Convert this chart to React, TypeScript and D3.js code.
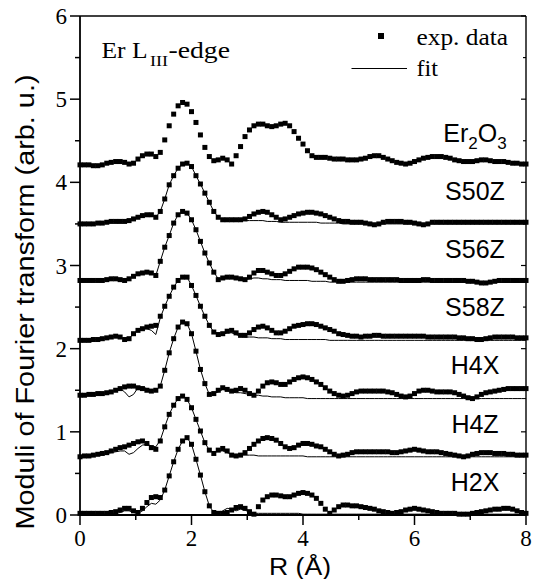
import React from "react";
import * as d3 from "d3";

// Sampling step of the radial grid (Å)
const R_STEP = 0.08;

const seriesNames = ["Er2O3", "S50Z", "S56Z", "S58Z", "H4X", "H4Z", "H2X"];
const offsets = [4.2, 3.5, 2.8, 2.1, 1.4, 0.7, 0];
const xTicks = [0, 2, 4, 6, 8];
const xMinorTicks = [1, 3, 5, 7];
const yTicks = [0, 1, 2, 3, 4, 5, 6];
const yMinorTicks = [0.5, 1.5, 2.5, 3.5, 4.5, 5.5];

// Experimental |FT| (relative to each curve's offset), R = 0 .. 8 step 0.08
const er2o3Exp = [
  0.01, 0.01, 0.01, 0.0, 0.0, 0.01, 0.03, 0.04, 0.05, 0.05,
  0.04, 0.02, 0.03, 0.08, 0.12, 0.14, 0.14, 0.11, 0.16, 0.31,
  0.48, 0.62, 0.72, 0.76, 0.74, 0.65, 0.52, 0.37, 0.22, 0.11,
  0.06, 0.07, 0.09, 0.07, 0.02, 0.12, 0.23, 0.35, 0.43, 0.48,
  0.5, 0.5, 0.48, 0.47, 0.48, 0.5, 0.51, 0.48, 0.41, 0.33,
  0.26, 0.18, 0.12, 0.1, 0.1, 0.1, 0.09, 0.08, 0.08, 0.08,
  0.07, 0.07, 0.07, 0.08, 0.09, 0.11, 0.12, 0.12, 0.1, 0.08,
  0.06, 0.04, 0.03, 0.02, 0.03, 0.05, 0.07, 0.09, 0.1, 0.11,
  0.11, 0.11, 0.1, 0.09, 0.07, 0.06, 0.05, 0.05, 0.05, 0.06,
  0.07, 0.07, 0.06, 0.05, 0.05, 0.05, 0.04, 0.03, 0.03, 0.02,
  0.02,
];
const s50zExp = [
  0.0, 0.0, 0.0, 0.0, 0.01, 0.01, 0.02, 0.03, 0.03, 0.03,
  0.03, 0.04, 0.06, 0.08, 0.1, 0.11, 0.11, 0.08, 0.15, 0.3,
  0.47, 0.58, 0.67, 0.72, 0.73, 0.69, 0.58, 0.48, 0.37, 0.26,
  0.15, 0.08, 0.05, 0.05, 0.05, 0.05, 0.05, 0.06, 0.09, 0.12,
  0.14, 0.15, 0.14, 0.11, 0.08, 0.05, 0.06, 0.08, 0.1, 0.12,
  0.13, 0.14, 0.14, 0.13, 0.12, 0.1, 0.08, 0.06, 0.04, 0.03,
  0.03, 0.02, 0.02, 0.02, 0.01, 0.0, -0.01, 0.0, 0.02, 0.03,
  0.03, 0.03, 0.03, 0.02, 0.02, 0.01, 0.0, -0.01, 0.0, 0.02,
  0.02, 0.02, 0.02, 0.02, 0.02, 0.02, 0.02, 0.02, 0.02, 0.02,
  0.02, 0.02, 0.02, 0.02, 0.02, 0.02, 0.02, 0.02, 0.02, 0.02,
  0.02,
];
const s56zExp = [
  0.02, 0.02, 0.02, 0.02, 0.02, 0.02, 0.03, 0.04, 0.04, 0.03,
  0.02, 0.04, 0.07, 0.1, 0.11, 0.12, 0.11, 0.08, 0.25, 0.42,
  0.56, 0.71, 0.81, 0.85, 0.83, 0.75, 0.63, 0.49, 0.35, 0.23,
  0.12, 0.03, 0.05, 0.06, 0.06, 0.05, 0.04, 0.03, 0.06, 0.11,
  0.14, 0.14, 0.12, 0.1, 0.08, 0.08, 0.1, 0.13, 0.16, 0.18,
  0.18, 0.18, 0.17, 0.15, 0.12, 0.09, 0.06, 0.03, 0.01, 0.01,
  0.02, 0.03, 0.04, 0.04, 0.04, 0.03, 0.03, 0.03, 0.03, 0.03,
  0.03, 0.03, 0.02, 0.02, 0.02, 0.02, 0.02, 0.03, 0.03, 0.02,
  0.02, 0.02, 0.02, 0.02, 0.02, 0.02, 0.02, 0.01, 0.01, 0.0,
  -0.01, -0.01, 0.0, 0.01, 0.02, 0.02, 0.02, 0.02, 0.02, 0.02,
  0.02,
];
const s58zExp = [
  0.0, 0.0, 0.0, 0.01, 0.01, 0.02, 0.03, 0.04, 0.05, 0.04,
  0.01, 0.02, 0.08, 0.12, 0.14, 0.16, 0.17, 0.18, 0.29, 0.41,
  0.53, 0.64, 0.72, 0.76, 0.76, 0.66, 0.54, 0.41, 0.29, 0.18,
  0.1, 0.07, 0.08, 0.11, 0.12, 0.09, 0.06, 0.06, 0.09, 0.13,
  0.16, 0.17, 0.15, 0.12, 0.09, 0.09, 0.11, 0.14, 0.17, 0.18,
  0.19, 0.2, 0.2, 0.19, 0.17, 0.15, 0.13, 0.11, 0.08, 0.07,
  0.06, 0.05, 0.05, 0.04, 0.05, 0.05, 0.06, 0.06, 0.05, 0.05,
  0.05, 0.05, 0.05, 0.05, 0.05, 0.05, 0.05, 0.05, 0.04, 0.04,
  0.04, 0.04, 0.04, 0.04, 0.04, 0.03, 0.03, 0.02, 0.02, 0.01,
  0.01, 0.02, 0.03, 0.04, 0.04, 0.04, 0.04, 0.04, 0.03, 0.03,
  0.03,
];
const h4xExp = [
  0.04, 0.04, 0.05, 0.05, 0.06, 0.06, 0.07, 0.08, 0.1, 0.12,
  0.14, 0.15, 0.15, 0.13, 0.12, 0.1, 0.09, 0.1, 0.15, 0.34,
  0.55, 0.72, 0.86, 0.92, 0.9, 0.78, 0.57, 0.35, 0.18, 0.05,
  0.06, 0.1, 0.13, 0.11, 0.09, 0.1, 0.12, 0.1, 0.06, 0.04,
  0.09, 0.15, 0.19, 0.2, 0.19, 0.17, 0.17, 0.2, 0.23, 0.25,
  0.26, 0.25, 0.23, 0.2, 0.17, 0.13, 0.09, 0.06, 0.04, 0.03,
  0.04, 0.06, 0.08, 0.09, 0.09, 0.09, 0.09, 0.09, 0.09, 0.08,
  0.07, 0.05, 0.03, 0.02, 0.03, 0.06, 0.09, 0.1, 0.1, 0.09,
  0.08, 0.08, 0.08, 0.08, 0.07, 0.05, 0.03, 0.01, 0.0, 0.02,
  0.05, 0.07, 0.08, 0.09, 0.1, 0.11, 0.12, 0.12, 0.12, 0.12,
  0.12,
];
const h4zExp = [
  0.0, 0.01, 0.01, 0.02, 0.03, 0.04, 0.05, 0.07, 0.09, 0.11,
  0.12, 0.14, 0.16, 0.18, 0.19, 0.16, 0.11, 0.09, 0.19, 0.36,
  0.51, 0.62, 0.7, 0.73, 0.69, 0.59, 0.45, 0.31, 0.17, 0.08,
  0.04, 0.08, 0.1, 0.07, 0.02, 0.01, 0.02, 0.05, 0.1, 0.15,
  0.19, 0.22, 0.23, 0.22, 0.2, 0.16, 0.12, 0.1, 0.11, 0.14,
  0.16, 0.16, 0.15, 0.13, 0.12, 0.09, 0.06, 0.03, 0.01, 0.02,
  0.03, 0.05, 0.06, 0.06, 0.06, 0.06, 0.06, 0.06, 0.06, 0.06,
  0.05, 0.05, 0.06, 0.07, 0.08, 0.09, 0.08, 0.07, 0.06, 0.06,
  0.06, 0.05, 0.04, 0.03, 0.02, 0.01, 0.0, 0.01, 0.03, 0.04,
  0.05, 0.05, 0.05, 0.04, 0.04, 0.04, 0.03, 0.03, 0.02, 0.02,
  0.02,
];
const h2xExp = [
  0.02, 0.02, 0.02, 0.02, 0.02, 0.02, 0.02, 0.03, 0.04, 0.06,
  0.08, 0.08, 0.05, 0.03, 0.08, 0.15, 0.21, 0.22, 0.21, 0.3,
  0.47, 0.64, 0.79, 0.89, 0.93, 0.85, 0.67, 0.48, 0.28, 0.11,
  0.03, 0.02, 0.02, 0.03, 0.06, 0.09, 0.1, 0.08, 0.04, 0.01,
  0.1, 0.18, 0.22, 0.24, 0.24, 0.23, 0.22, 0.22, 0.24, 0.26,
  0.27, 0.26, 0.24, 0.2, 0.14, 0.07, 0.02, 0.06, 0.1, 0.12,
  0.12, 0.11, 0.11, 0.1, 0.09, 0.08, 0.07, 0.05, 0.04, 0.03,
  0.02, 0.03, 0.04, 0.06, 0.07, 0.08, 0.07, 0.06, 0.05, 0.04,
  0.03, 0.02, 0.02, 0.02, 0.02, 0.01, 0.01, 0.01, 0.02, 0.03,
  0.04, 0.05, 0.06, 0.07, 0.07, 0.08, 0.08, 0.07, 0.05, 0.03,
  0.02,
];

// Fits (same grid)
const s50zFit = [
  0.0, 0.0, 0.0, 0.0, 0.01, 0.01, 0.02, 0.03, 0.03, 0.03,
  0.03, 0.04, 0.06, 0.08, 0.1, 0.11, 0.11, 0.08, 0.15, 0.3,
  0.47, 0.58, 0.67, 0.72, 0.73, 0.69, 0.58, 0.48, 0.37, 0.26,
  0.15, 0.08, 0.05, 0.05, 0.05, 0.05, 0.05, 0.04, 0.04, 0.04,
  0.04, 0.04, 0.03, 0.03, 0.03, 0.02, 0.02, 0.02, 0.02, 0.02,
  0.02, 0.02, 0.02, 0.02, 0.01, 0.01, 0.01, 0.01, 0.01, 0.0,
  0, 0, 0, 0, 0, 0, 0, 0, 0, 0,
  0, 0, 0, 0, 0, 0, 0, 0, 0, 0,
  0, 0, 0, 0, 0, 0, 0, 0, 0, 0,
  0, 0, 0, 0, 0, 0, 0, 0, 0, 0,
  0,
];
const s56zFit = [
  0.02, 0.02, 0.02, 0.02, 0.02, 0.02, 0.03, 0.04, 0.04, 0.03,
  0.02, 0.04, 0.07, 0.1, 0.11, 0.12, 0.11, 0.08, 0.25, 0.42,
  0.56, 0.71, 0.81, 0.85, 0.83, 0.75, 0.63, 0.49, 0.35, 0.23,
  0.12, 0.04, 0.04, 0.05, 0.05, 0.04, 0.03, 0.03, 0.04, 0.05,
  0.05, 0.04, 0.04, 0.03, 0.03, 0.03, 0.02, 0.02, 0.02, 0.02,
  0.02, 0.02, 0.01, 0.01, 0.01, 0.01, 0.0, 0.0, 0.0, 0.0,
  0, 0, 0, 0, 0, 0, 0, 0, 0, 0,
  0, 0, 0, 0, 0, 0, 0, 0, 0, 0,
  0, 0, 0, 0, 0, 0, 0, 0, 0, 0,
  0, 0, 0, 0, 0, 0, 0, 0, 0, 0,
  0,
];
const s58zFit = [
  0.0, 0.0, 0.0, 0.01, 0.01, 0.02, 0.03, 0.04, 0.05, 0.04,
  0.01, 0.02, 0.08, 0.12, 0.14, 0.14, 0.12, 0.07, 0.27, 0.41,
  0.53, 0.64, 0.72, 0.76, 0.76, 0.66, 0.54, 0.41, 0.29, 0.18,
  0.1, 0.06, 0.07, 0.09, 0.09, 0.07, 0.05, 0.04, 0.04, 0.04,
  0.03, 0.03, 0.03, 0.02, 0.02, 0.02, 0.01, 0.01, 0.01, 0.01,
  0.01, 0.01, 0.01, 0.01, 0.01, 0.01, 0.0, 0.0, 0.0, 0.0,
  0, 0, 0, 0, 0, 0, 0, 0, 0, 0,
  0, 0, 0, 0, 0, 0, 0, 0, 0, 0,
  0, 0, 0, 0, 0, 0, 0, 0, 0, 0,
  0, 0, 0, 0, 0, 0, 0, 0, 0, 0,
  0,
];
const h4xFit = [
  0.04, 0.04, 0.05, 0.05, 0.06, 0.06, 0.07, 0.08, 0.1, 0.12,
  0.08, 0.02, 0.05, 0.13, 0.14, 0.12, 0.1, 0.1, 0.15, 0.34,
  0.55, 0.72, 0.86, 0.92, 0.9, 0.78, 0.57, 0.35, 0.18, 0.05,
  0.06, 0.08, 0.11, 0.1, 0.08, 0.07, 0.07, 0.06, 0.05, 0.04,
  0.04, 0.03, 0.03, 0.02, 0.02, 0.02, 0.01, 0.01, 0.01, 0.01,
  0.01, 0.0, 0.0, 0.0, 0.0, 0.0, 0.0, 0.0, 0.0, 0.0,
  0, 0, 0, 0, 0, 0, 0, 0, 0, 0,
  0, 0, 0, 0, 0, 0, 0, 0, 0, 0,
  0, 0, 0, 0, 0, 0, 0, 0, 0, 0,
  0, 0, 0, 0, 0, 0, 0, 0, 0, 0,
  0,
];
const h4zFit = [
  0.0, 0.01, 0.01, 0.02, 0.02, 0.03, 0.04, 0.05, 0.06, 0.07,
  0.07, 0.03, 0.05, 0.1, 0.14, 0.15, 0.13, 0.12, 0.2, 0.36,
  0.51, 0.62, 0.7, 0.73, 0.69, 0.59, 0.45, 0.31, 0.17, 0.08,
  0.05, 0.07, 0.07, 0.05, 0.03, 0.02, 0.02, 0.02, 0.02, 0.02,
  0.01, 0.01, 0.01, 0.01, 0.01, 0.01, 0.01, 0.01, 0.01, 0.01,
  0.01, 0.0, 0.0, 0.0, 0.0, 0.0, 0.0, 0.0, 0.0, 0.0,
  0, 0, 0, 0, 0, 0, 0, 0, 0, 0,
  0, 0, 0, 0, 0, 0, 0, 0, 0, 0,
  0, 0, 0, 0, 0, 0, 0, 0, 0, 0,
  0, 0, 0, 0, 0, 0, 0, 0, 0, 0,
  0,
];
const h2xFit = [
  0.01, 0.01, 0.01, 0.01, 0.01, 0.01, 0.01, 0.02, 0.02, 0.03,
  0.05, 0.05, 0.03, 0.02, 0.05, 0.1, 0.14, 0.13, 0.18, 0.3,
  0.47, 0.64, 0.79, 0.89, 0.93, 0.85, 0.67, 0.48, 0.28, 0.11,
  0.03, 0.02, 0.05, 0.08, 0.07, 0.05, 0.07, 0.06, 0.03, 0.02,
  0.02, 0.02, 0.02, 0.02, 0.02, 0.02, 0.02, 0.02, 0.02, 0.02,
  0.01, 0.01, 0.01, 0.01, 0.01, 0.01, 0.01, 0.01, 0.01, 0.01,
  0.01, 0.01, 0.01, 0.01, 0.01, 0.01, 0.01, 0.01, 0.01, 0.01,
  0.01, 0.01, 0.01, 0.01, 0.01, 0.01, 0.01, 0.01, 0.01, 0.01,
  0.01, 0.01, 0.01, 0.01, 0.01, 0.01, 0.01, 0.01, 0.01, 0.01,
  0.01, 0.01, 0.01, 0.01, 0.01, 0.01, 0.01, 0.01, 0.01, 0.01,
  0.01,
];

const expSeries = [er2o3Exp, s50zExp, s56zExp, s58zExp, h4xExp, h4zExp, h2xExp];
const fitSeries: (number[] | null)[] = [null, s50zFit, s56zFit, s58zFit, h4xFit, h4zFit, h2xFit];

const SERIF = "'Liberation Serif', 'Times New Roman', serif";
const SANS = "'Liberation Sans', Arial, Helvetica, sans-serif";

export default function App() {
  const W = 535;
  const H = 579;
  const x = d3.scaleLinear().domain([0, 8]).range([80, 526]);
  const y = d3.scaleLinear().domain([0, 6]).range([515, 16]);
  const ms = 5;

  const lineFor = (arr: number[], off: number) =>
    d3
      .line<number>()
      .x((_, i) => x(i * R_STEP))
      .y((d) => y(d + off))(arr) || "";

  const label = (name: string, off: number) => {
    const ly = y(off + 0.29);
    if (name === "Er2O3") {
      return (
        <text key={name} x={475} y={ly} textAnchor="middle" fontFamily={SANS} fontSize={25} fill="#000">
          Er
          <tspan fontSize={17} dy={7}>2</tspan>
          <tspan dy={-7}>O</tspan>
          <tspan fontSize={17} dy={7}>3</tspan>
        </text>
      );
    }
    return (
      <text key={name} x={475} y={ly} textAnchor="middle" fontFamily={SANS} fontSize={25} fill="#000">
        {name}
      </text>
    );
  };

  return (
    <svg
      width={W}
      height={H}
      viewBox={`0 0 ${W} ${H}`}
      style={{ position: "absolute", left: 0, top: 0, background: "#fff" }}
    >
      <rect x={0} y={0} width={W} height={H} fill="#fff" />

      {/* fits */}
      {fitSeries.map((f, k) =>
        f ? <path key={"fit" + k} d={lineFor(f, offsets[k])} fill="none" stroke="#000" strokeWidth={1} /> : null
      )}

      {/* experimental points */}
      {expSeries.map((arr, k) => (
        <g key={"exp" + k}>
          {arr.map((v, i) => (
            <rect
              key={i}
              x={x(i * R_STEP) - ms / 2}
              y={y(v + offsets[k]) - ms / 2}
              width={ms}
              height={ms}
              fill="#000"
            />
          ))}
        </g>
      ))}

      {/* frame */}
      <line x1={x(0)} x2={x(8)} y1={y(6)} y2={y(6)} stroke="#000" strokeWidth={1.6} />
      <line x1={x(8)} x2={x(8)} y1={y(6)} y2={y(0)} stroke="#000" strokeWidth={1.4} />
      <line x1={x(0)} x2={x(8)} y1={y(0)} y2={y(0)} stroke="#000" strokeWidth={1.8} />
      <line x1={x(0)} x2={x(0)} y1={y(6)} y2={y(0)} stroke="#000" strokeWidth={1.8} />

      {/* x ticks */}
      {xTicks.map((t) => (
        <g key={"xt" + t}>
          <line x1={x(t)} x2={x(t)} y1={y(0)} y2={y(0) + 10} stroke="#000" strokeWidth={1.5} />
          <text x={x(t)} y={546} textAnchor="middle" fontFamily={SERIF} fontSize={23} fill="#000">
            {t}
          </text>
        </g>
      ))}
      {xMinorTicks.map((t) => (
        <line key={"xm" + t} x1={x(t)} x2={x(t)} y1={y(0)} y2={y(0) + 5} stroke="#000" strokeWidth={1.5} />
      ))}

      {/* y ticks */}
      {yTicks.map((t) => (
        <g key={"yt" + t}>
          <line x1={x(0) - 10} x2={x(0)} y1={y(t)} y2={y(t)} stroke="#000" strokeWidth={1.5} />
          <line x1={x(8) - 5} x2={x(8)} y1={y(t)} y2={y(t)} stroke="#000" strokeWidth={1.2} />
          <text x={67} y={y(t) + 8} textAnchor="end" fontFamily={SERIF} fontSize={23} fill="#000">
            {t}
          </text>
        </g>
      ))}
      {yMinorTicks.map((t) => (
        <g key={"ym" + t}>
          <line x1={x(0) - 5} x2={x(0)} y1={y(t)} y2={y(t)} stroke="#000" strokeWidth={1.5} />
          <line x1={x(8) - 3} x2={x(8)} y1={y(t)} y2={y(t)} stroke="#000" strokeWidth={1.2} />
        </g>
      ))}

      {/* axis titles */}
      <text x={300} y={575} textAnchor="middle" fontFamily={SANS} fontSize={23} textLength={62} lengthAdjust="spacingAndGlyphs" fill="#000">
        R (Å)
      </text>
      <text
        transform={`translate(34, 302) rotate(-90)`}
        textAnchor="middle"
        fontFamily={SANS}
        fontSize={25}
        textLength={455}
        lengthAdjust="spacingAndGlyphs"
        fill="#000"
      >
        Moduli of Fourier transform (arb. u.)
      </text>

      {/* edge annotation */}
      <text x={101.5} y={58} fontFamily={SERIF} fontSize={24} textLength={46} lengthAdjust="spacingAndGlyphs" fill="#000">
        Er L
      </text>
      <text x={150} y={66} fontFamily={SERIF} fontSize={14} textLength={18} lengthAdjust="spacingAndGlyphs" fill="#000">
        III
      </text>
      <text x={168.5} y={58} fontFamily={SERIF} fontSize={24} textLength={61.5} lengthAdjust="spacingAndGlyphs" fill="#000">
        -edge
      </text>

      {/* legend */}
      <rect x={378} y={33} width={6} height={6} fill="#000" />
      <text x={416.5} y={45} fontFamily={SERIF} fontSize={24} textLength={91.5} lengthAdjust="spacingAndGlyphs" fill="#000">
        exp. data
      </text>
      <line x1={351.5} x2={407} y1={68.5} y2={68.5} stroke="#000" strokeWidth={1} />
      <text x={416.5} y={76} fontFamily={SERIF} fontSize={24} textLength={21.5} lengthAdjust="spacingAndGlyphs" fill="#000">
        fit
      </text>

      {/* series labels */}
      {seriesNames.map((n, k) => label(n, offsets[k]))}
    </svg>
  );
}
